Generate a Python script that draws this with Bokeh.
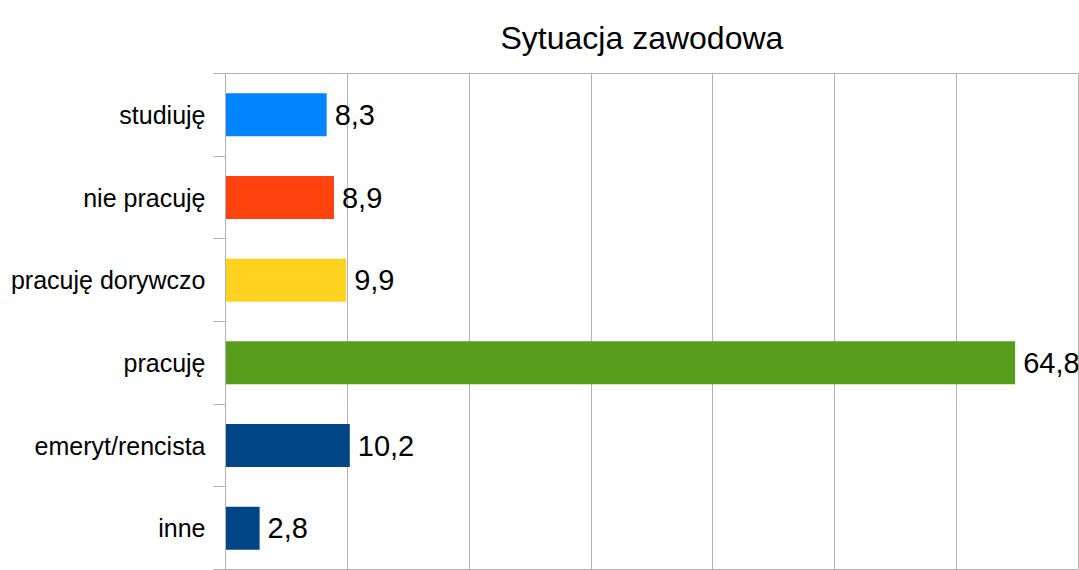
from bokeh.plotting import figure
from bokeh.models import ColumnDataSource, FixedTicker, Range1d, Title
from bokeh.core.properties import value
from bokeh.embed import file_html
from bokeh.resources import INLINE

# ---- data ----
categories = ["studiuję", "nie pracuję", "pracuję dorywczo", "pracuję", "emeryt/rencista", "inne"]
values = [8.3, 8.9, 9.9, 64.8, 10.2, 2.8]
colors = ["#0084ff", "#ff420e", "#ffd320", "#579d1c", "#004586", "#004586"]
x_ticks = [0, 10, 20, 30, 40, 50, 60, 70]
title_text = "Sytuacja zawodowa"

n = len(categories)
ypos = [n - 0.5 - i for i in range(n)]
labels = [f"{v:.1f}".replace(".", ",") for v in values]

src = ColumnDataSource(dict(y=ypos, v=values, c=colors, lab=labels, cat=categories))

FONT = "Liberation Sans"
GRID = "#b3b3b3"

p = figure(width=1079, height=570, output_backend="svg", toolbar_location=None,
           x_range=Range1d(x_ticks[0], x_ticks[-1]), y_range=Range1d(0, n),
           min_border_left=225, min_border_right=1, min_border_top=73, min_border_bottom=1)

p.title = Title(text=title_text, align="left", offset=275, text_font=FONT, text_font_size="32px",
                text_font_style="normal", text_color="#000000", standoff=34,
                vertical_align="middle")

p.hbar(y="y", right="v", left=0, height=0.52, fill_color="c", line_color=None, source=src)
p.text(x="v", y="y", text="lab", x_offset=8, text_baseline="middle", text_align="left",
       text_font=value(FONT), text_font_size="29px", text_color="#000000", source=src)

# x axis (hidden, cut off in reference)
p.xaxis.ticker = FixedTicker(ticks=x_ticks)
p.xaxis.visible = False
p.xgrid.ticker = FixedTicker(ticks=x_ticks)
p.xgrid.grid_line_color = GRID
p.xgrid.grid_line_width = 1
p.ygrid.grid_line_color = None

# y axis: labels at band centres, ticks at band boundaries
ya = p.yaxis[0]
ya.ticker = FixedTicker(ticks=ypos, minor_ticks=list(range(n + 1)))
ya.major_label_overrides = {y: c for y, c in zip(ypos, categories)}
ya.major_tick_out = 0
ya.major_tick_in = 0
ya.major_tick_line_color = None
ya.minor_tick_out = 12
ya.minor_tick_in = 0
ya.minor_tick_line_color = GRID
ya.axis_line_color = GRID
ya.major_label_standoff = 8
ya.major_label_text_font = FONT
ya.major_label_text_font_size = "25px"
ya.major_label_text_color = "#000000"

p.outline_line_color = GRID
p.background_fill_color = "white"
p.border_fill_color = "white"

open("out.html", "w").write(file_html(p, INLINE))
